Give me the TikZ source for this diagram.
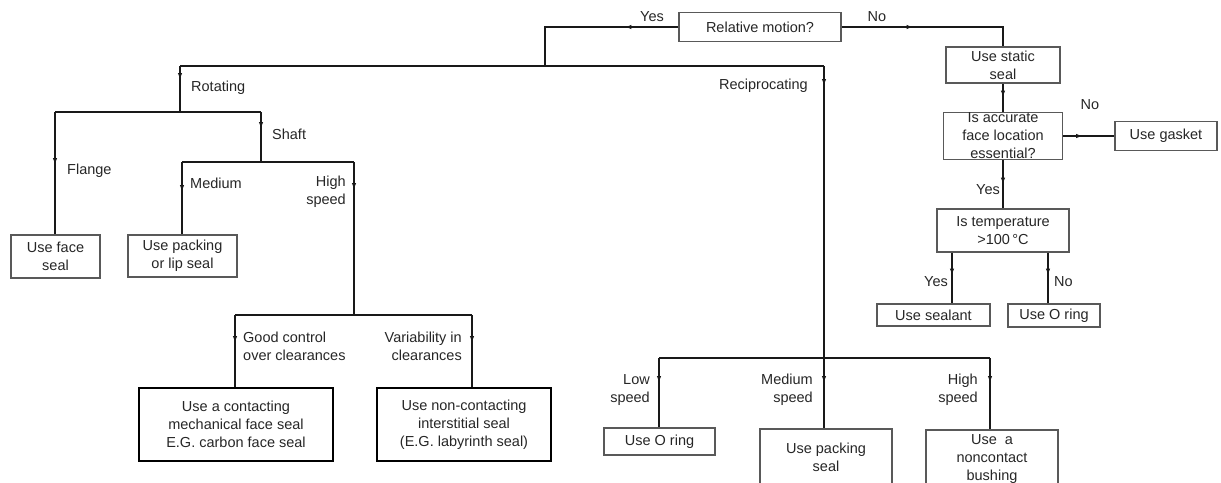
\documentclass[tikz,border=0pt]{standalone}
\usepackage{fontspec}
\setmainfont{Liberation Sans}
\usetikzlibrary{arrows.meta,decorations.markings}
\begin{document}
\begin{tikzpicture}[x=1pt,y=-1pt,
  every node/.style={font=\fontsize{14.5}{18}\selectfont, text=black!85},
  box/.style={draw=black!65, line width=1.1pt, align=center, inner sep=0pt},
  tbox/.style={draw=black, line width=2.2pt, align=center, inner sep=0pt},
  conn/.style={draw=black!90, line width=2.2pt},
  marr/.style={postaction={decorate,decoration={markings,mark=at position #1 with {\arrow{Latex[length=7pt,width=4.5pt]}}}}},
  lbl/.style={inner sep=0pt}
]
\useasboundingbox (0,0) rectangle (1221,482);
\clip (0,0) rectangle (1221,482);
% boxes
\node[box, minimum width=162, minimum height=29] (relmot) at (760,27) {Relative motion?};
\node[box, minimum width=114, minimum height=36] (static) at (1003,65) {Use static\\seal};
\node[box, minimum width=119, minimum height=43] (accurate) at (1003,136) {Is accurate\\face location\\essential?};
\node[box, minimum width=102, minimum height=29] (gasket) at (1166,136) {Use gasket};
\node[box, minimum width=132, minimum height=43] (temp) at (1003,230.5) {Is temperature\\>100\,°C};
\node[box, minimum width=113, minimum height=22] (sealant) at (933.5,315) {Use sealant};
\node[box, minimum width=92, minimum height=23] (oring1) at (1054,315.5) {Use O ring};
\node[box, minimum width=89, minimum height=43] (faceseal) at (55.5,256.5) {Use face\\seal};
\node[box, minimum width=109, minimum height=42] (packlip) at (182.5,256) {Use packing\\or lip seal};
\node[tbox, minimum width=194, minimum height=73] (contact) at (236,424.5) {Use a contacting\\mechanical face seal\\E.G. carbon face seal};
\node[tbox, minimum width=174, minimum height=73] (noncont) at (464,424.5) {Use non-contacting\\interstitial seal\\(E.G. labyrinth seal)};
\node[box, minimum width=111, minimum height=27] (oring2) at (659.5,441.5) {Use O ring};
\node[box, minimum width=132, minimum height=56] (packseal) at (826,457) {Use packing\\seal};
\node[box, minimum width=132, minimum height=58] (bushing) at (992,459) {Use~~a\\noncontact\\bushing};
% junctions
\coordinate (yesC) at (545,66);
\coordinate (rotC) at (180,66);
\coordinate (recC) at (824,66);
\coordinate (rotJ) at (180,112);
\coordinate (flangeC) at (55,112);
\coordinate (shaftC) at (261,112);
\coordinate (shaftJ) at (261,162);
\coordinate (medC) at (182,162);
\coordinate (hsC) at (354,162);
\coordinate (hsJ) at (354,315);
\coordinate (gcC) at (235,315);
\coordinate (varC) at (472,315);
\coordinate (recJ) at (824,358);
\coordinate (lowC) at (659,358);
\coordinate (highC) at (990,358);
\coordinate (tY) at (952,0);
\coordinate (tN) at (1048,0);
% connectors
\draw[conn, marr=54pt] (relmot.west) -| (yesC);
\draw[conn] (rotC) -- (recC);
\draw[conn, marr=14pt] (rotC) -- (rotJ);
\draw[conn] (flangeC) -- (shaftC);
\draw[conn, marr=53pt] (flangeC) -- (flangeC |- faceseal.north);
\draw[conn, marr=17pt] (shaftC) -- (shaftJ);
\draw[conn] (medC) -- (hsC);
\draw[conn, marr=30pt] (medC) -- (medC |- packlip.north);
\draw[conn, marr=28pt] (hsC) -- (hsJ);
\draw[conn] (gcC) -- (varC);
\draw[conn, marr=28pt] (gcC) -- (gcC |- contact.north);
\draw[conn, marr=28pt] (varC) -- (varC |- noncont.north);
\draw[conn, marr=20pt] (recC) -- (recJ);
\draw[conn] (lowC) -- (highC);
\draw[conn, marr=25pt] (lowC) -- (lowC |- oring2.north);
\draw[conn, marr=25pt] (recJ) -- (recJ |- packseal.north);
\draw[conn, marr=25pt] (highC) -- (highC |- bushing.north);
\draw[conn, marr=72pt] (relmot.east) -| (static.north);
\draw[conn, marr=14pt] (static.south) -- (accurate.north);
\draw[conn, marr=20pt] (accurate.east) -- (gasket.west);
\draw[conn, marr=25pt] (accurate.south) -- (temp.north);
\draw[conn, marr=23pt] (tY |- temp.south) -- (tY |- sealant.north);
\draw[conn, marr=23pt] (tN |- temp.south) -- (tN |- oring1.north);
% labels
\node[lbl] (lyes) at (652,17) {Yes};
\node[lbl] (lno) at (877,17) {No};
\node[lbl] (lno2) at (1090,105) {No};
\node[lbl, anchor=east] (lyes2) at (1000,190) {Yes};
\node[lbl, anchor=east] (lyes3) at (948,282) {Yes};
\node[lbl, anchor=west] (lno3) at (1054,282) {No};
\node[lbl, anchor=west] (lrot) at (191,88) {Rotating};
\node[lbl, anchor=east] (lrec) at (808,86) {Reciprocating};
\node[lbl, anchor=west] (lfl) at (67,171) {Flange};
\node[lbl, anchor=west] (lsh) at (272,134) {Shaft};
\node[lbl, anchor=west] (lmed) at (190,183) {Medium};
\node[lbl, anchor=east, align=right] (lhs) at (346,191.5) {High\\speed};
\node[lbl, anchor=west, align=left] (lgc) at (243,346) {Good control\\over clearances};
\node[lbl, anchor=east, align=right] (lvar) at (462,346) {Variability in\\clearances};
\node[lbl, anchor=east, align=right] (llow) at (650,390) {Low\\speed};
\node[lbl, anchor=east, align=right] (lms) at (813,390) {Medium\\speed};
\node[lbl, anchor=east, align=right] (lhs2) at (978,390) {High\\speed};
\end{tikzpicture}
\end{document}
